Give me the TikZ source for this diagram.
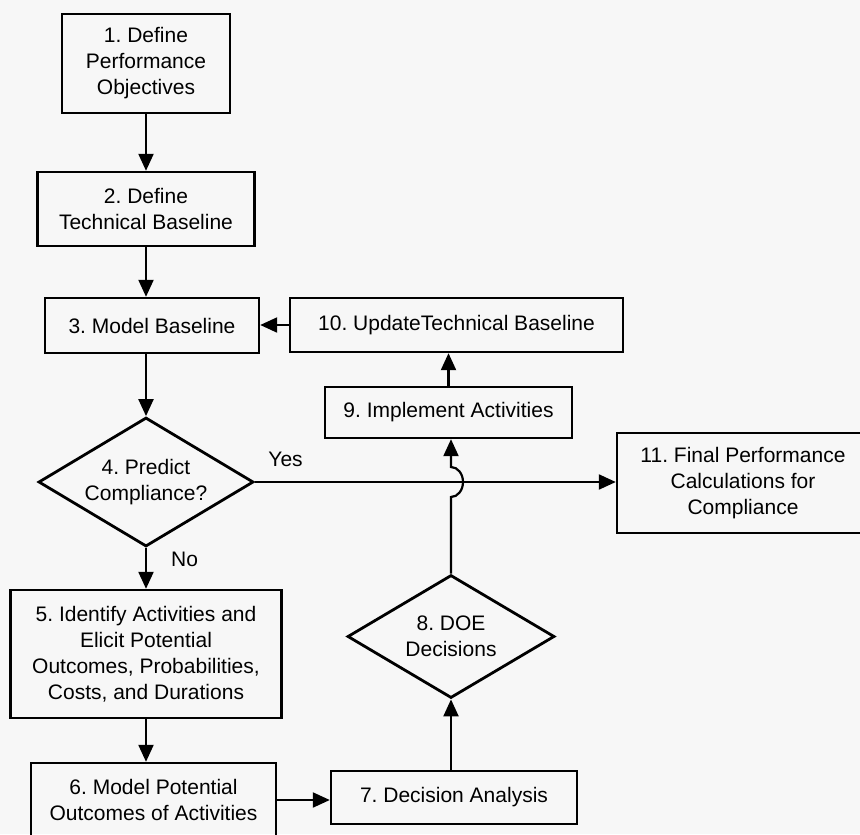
\documentclass[tikz,border=0pt]{standalone}
\usepackage{fontspec}
\setmainfont{Liberation Sans}
\usetikzlibrary{shapes.geometric, arrows.meta}
\definecolor{paper}{RGB}{247,247,247}
\frenchspacing

\begin{document}
\begin{tikzpicture}[
    x=0.5pt, y=-0.5pt,
    font=\fontsize{10.5}{13}\selectfont,
    box/.style={rectangle, draw, line width=1.2pt, align=center, inner sep=2pt},
    decision/.style={diamond, draw, line width=1.4pt, align=center, inner sep=0pt, aspect=1.67},
    arrow/.style={-{Triangle[length=8.5pt, width=7.5pt]}, line width=1.1pt}
]

% Page
\fill[paper] (0,0) rectangle (860,834);
\useasboundingbox (0,0) rectangle (860,834);

% Baseline column
\node[box, minimum width=84pt, minimum height=49.5pt] (perf) at (146,63.5) {1. Define\\Performance\\Objectives};
\node[box, minimum width=108.5pt, minimum height=37pt] (tech) at (146,209) {2. Define\\Technical Baseline};
\node[box, minimum width=107pt, minimum height=27.5pt] (base) at (152,325.5) {3. Model Baseline};

% Compliance check
\node[decision, minimum width=107.5pt, minimum height=64.5pt] (predict) at (146,482) {4. Predict\\Compliance?};

% Activities
\node[box, minimum width=135.5pt, minimum height=64pt] (ident) at (146,654) {5. Identify Activities and\\Elicit Potential\\Outcomes, Probabilities,\\Costs, and Durations};
\node[box, minimum width=122.5pt, minimum height=37pt] (model) at (153.5,800) {6. Model Potential\\Outcomes of Activities};
\node[box, minimum width=123pt, minimum height=26.5pt] (analysis) at (454,797.5) {7. Decision Analysis};

% DOE loop
\node[decision, minimum width=103.5pt, minimum height=61.5pt] (doe) at (451,636.5) {8. DOE\\Decisions};
\node[box, minimum width=123.5pt, minimum height=25.5pt] (impl) at (448.5,412.5) {9. Implement Activities};
\node[box, minimum width=166.5pt, minimum height=27pt] (update) at (456.5,325) {10. UpdateTechnical Baseline};

% Final calculations
\node[box, minimum width=126pt, minimum height=50pt] (final) at (743,483) {11. Final Performance\\Calculations for\\Compliance};

% Connections
\draw[arrow] (perf) -- (tech);
\draw[arrow] (tech.south) -- (tech.south |- base.north);
\draw[arrow] (predict.north |- base.south) -- (predict.north);
\draw[arrow] (predict.east) -- (predict.east -| final.west) node[pos=0.085, above=3.7pt] (yes) {Yes};
\draw[arrow] (predict.south) -- (ident.north) node[pos=0.27, right=8.7pt] (no) {No};
\draw[arrow] (ident.south) -- (ident.south |- model.north);
\draw[arrow] (model.east) -- (model.east -| analysis.west);
\draw[arrow] (analysis.north -| doe.south) -- (doe.south);
\coordinate (cross) at (doe.north |- predict.east);
\draw[arrow] (doe.north) -- ([yshift=-7.5pt]cross) arc[start angle=-90, end angle=90, x radius=6pt, y radius=7.5pt] -- (doe.north |- impl.south);
\draw[arrow] (impl.north) -- (impl.north |- update.south);
\draw[arrow] (update.west) -- (update.west -| base.east);

\end{tikzpicture}
\end{document}
